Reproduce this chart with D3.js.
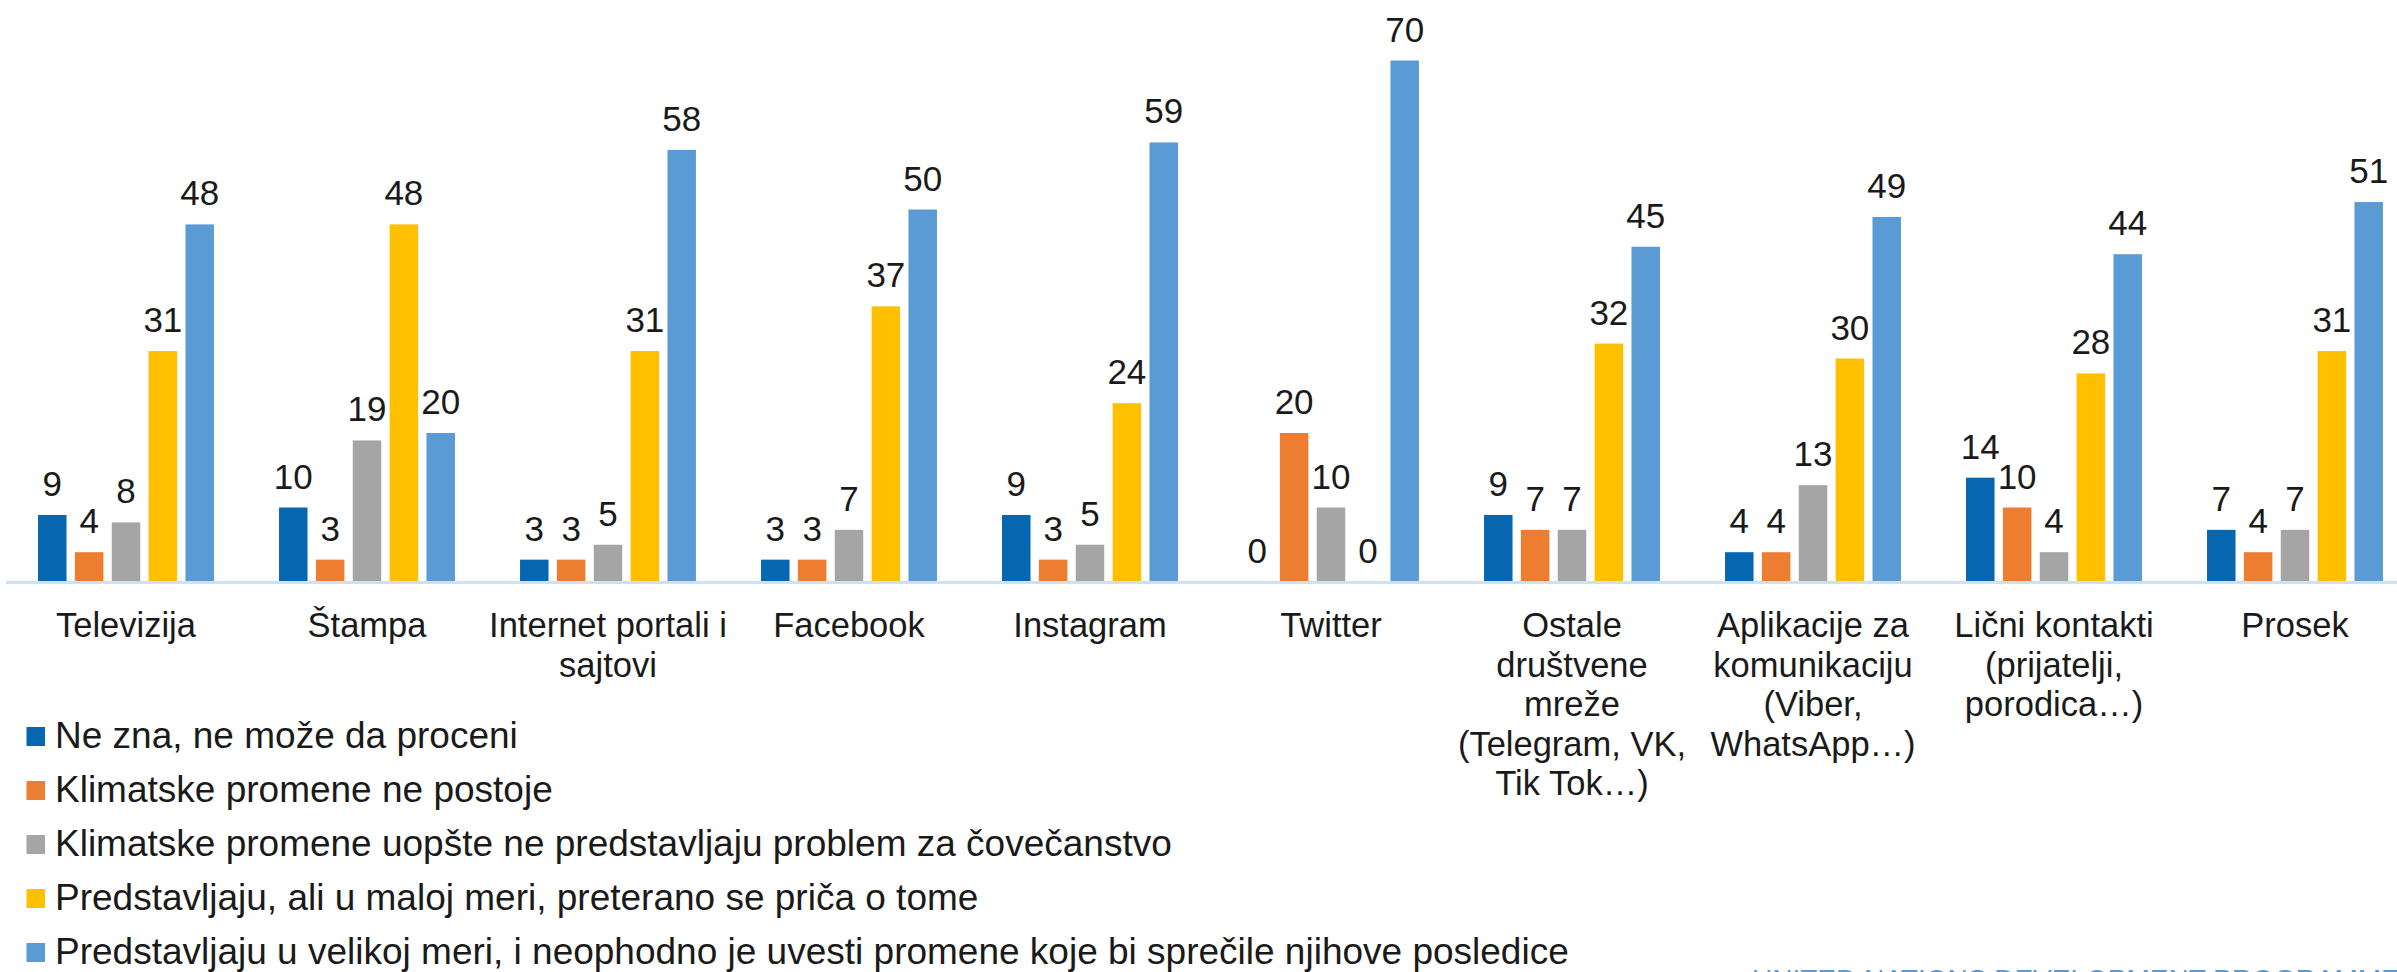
<!DOCTYPE html>
<html>
<head>
<meta charset="utf-8">
<script src="https://cdn.jsdelivr.net/npm/d3@7/dist/d3.min.js"></script>
<style>
  html, body { margin: 0; padding: 0; background: #ffffff; overflow: hidden; }
  svg { display: block; }
  text { font-family: "Liberation Sans", Arial, sans-serif; }
</style>
</head>
<body>
<svg id="chart" width="2397" height="972"></svg>
<script>
// ---- data ----
const categories = [
  "Televizija",
  "Štampa",
  "Internet portali i\nsajtovi",
  "Facebook",
  "Instagram",
  "Twitter",
  "Ostale\ndruštvene\nmreže\n(Telegram, VK,\nTik Tok…)",
  "Aplikacije za\nkomunikaciju\n(Viber,\nWhatsApp…)",
  "Lični kontakti\n(prijatelji,\nporodica…)",
  "Prosek"
];
const seriesNames = [
  "Ne zna, ne može da proceni",
  "Klimatske promene ne postoje",
  "Klimatske promene uopšte ne predstavljaju problem za čovečanstvo",
  "Predstavljaju, ali u maloj meri, preterano se priča o tome",
  "Predstavljaju u velikoj meri, i neophodno je uvesti promene koje bi sprečile njihove posledice"
];
const neZna       = [9, 10, 3, 3, 9, 0, 9, 4, 14, 7];
const nePostoje   = [4, 3, 3, 3, 3, 20, 7, 4, 10, 4];
const neProblem   = [8, 19, 5, 7, 5, 10, 7, 13, 4, 7];
const maloj       = [31, 48, 31, 37, 24, 0, 32, 30, 28, 31];
const velikoj     = [48, 20, 58, 50, 59, 70, 45, 49, 44, 51];
const seriesValues = [neZna, nePostoje, neProblem, maloj, velikoj];
const colors = ["#0666B0", "#ED7D31", "#A5A5A5", "#FFC000", "#5B9BD5"];
const footerText = "UNITED NATIONS DEVELOPMENT PROGRAMME";

// ---- layout ----
const svg = d3.select("#chart");
const baseY = 582;
const x0 = d3.scaleBand().domain(categories).range([5.5, 2415.5]).padding(0);
const bw = x0.bandwidth();
const x1 = d3.scaleBand().domain(d3.range(seriesNames.length))
  .range([bw * 0.135, bw * 0.865]).paddingInner(0.227).paddingOuter(0);
const y = d3.scaleLinear().domain([0, 70]).range([baseY, baseY - 70 * 7.45]);

// bars
const groups = svg.append("g").selectAll("g")
  .data(categories).join("g")
  .attr("transform", d => `translate(${x0(d)},0)`);

groups.each(function(cat, ci) {
  const g = d3.select(this);
  seriesValues.forEach((vals, si) => {
    const v = vals[ci];
    g.append("rect")
      .attr("x", x1(si))
      .attr("width", x1.bandwidth())
      .attr("y", y(v))
      .attr("height", baseY - y(v))
      .attr("fill", colors[si]);
    g.append("text")
      .attr("x", x1(si) + x1.bandwidth() / 2)
      .attr("y", y(v) - 19)
      .attr("text-anchor", "middle")
      .attr("font-size", 35)
      .attr("fill", "#1a1a1a")
      .text(v);
  });
});

// axis line
svg.append("line")
  .attr("x1", 6).attr("x2", 2397)
  .attr("y1", baseY + 0.5).attr("y2", baseY + 0.5)
  .attr("stroke", "#cbe2f6").attr("stroke-width", 3);

// category labels
const catG = svg.append("g");
categories.forEach(c => {
  const t = catG.append("text")
    .attr("x", x0(c) + bw / 2)
    .attr("y", 637)
    .attr("text-anchor", "middle")
    .attr("font-size", 34.5)
    .attr("fill", "#1a1a1a");
  c.split("\n").forEach((line, i) => {
    t.append("tspan")
      .attr("x", x0(c) + bw / 2)
      .attr("dy", i === 0 ? 0 : 39.5)
      .text(line);
  });
});

// legend
const leg = svg.append("g");
seriesNames.forEach((name, i) => {
  const yy = 748 + i * 54;
  leg.append("rect")
    .attr("x", 26.5).attr("y", yy - 21)
    .attr("width", 18.5).attr("height", 19)
    .attr("fill", colors[i]);
  leg.append("text")
    .attr("x", 55).attr("y", yy)
    .attr("font-size", 37)
    .attr("fill", "#1a1a1a")
    .text(name);
});

// footer (cut off at bottom edge)
svg.append("text")
  .attr("x", 1752).attr("y", 989)
  .attr("font-size", 28)
  .attr("fill", "#5B9BD5")
  .text(footerText);
</script>
</body>
</html>
